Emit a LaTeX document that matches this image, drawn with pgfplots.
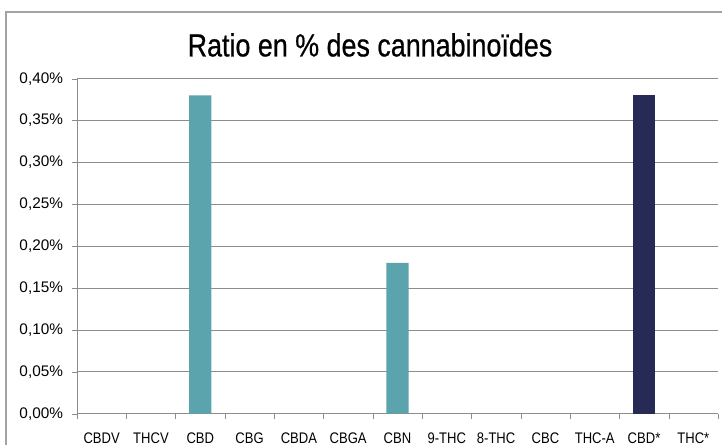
\documentclass[border=0pt]{standalone}
\usepackage{fontspec}
\setmainfont{Liberation Sans}
\newfontfamily\narrowfont[FakeStretch=0.85]{Liberation Sans}
\newfontfamily\titlefont[FakeStretch=0.84,FakeBold=0.6]{Liberation Sans}
\usepackage{pgfplots}
\pgfplotsset{compat=1.18}
\definecolor{teal1}{HTML}{5BA3AD}
\definecolor{navy1}{HTML}{262A55}
\definecolor{gridg}{HTML}{8C8C8C}
\begin{document}
\begin{tikzpicture}
\useasboundingbox (0pt,0pt) rectangle (541.5pt,333.75pt);
\draw[color=gridg!80, line width=0.9pt] (4.5pt,-15pt) -- (4.5pt,324.75pt) -- (570pt,324.75pt);
\node[font=\titlefont\fontsize{24}{27}\selectfont, text=black] at (277.5pt,300pt) {Ratio en \% des cannabinoïdes};
\begin{axis}[
  at={(57.75pt,23.5pt)}, anchor=south west,
  scale only axis, width=480.75pt, height=251.25pt,
  xmin=-0.5, xmax=12.5, ymin=0, ymax=0.4,
  ytick={0,0.05,...,0.4},
  yticklabel={\pgfmathparse{\tick}\pgfmathprintnumber[fixed,fixed zerofill,precision=2,use comma]{\pgfmathresult}\%},
  /pgf/number format/assume math mode=true,
  yticklabel style={font=\fontsize{11.5}{13}\selectfont, xshift=-3pt},
  xtick={0,...,12},
  xticklabels={CBDV,THCV,CBD,CBG,CBDA,CBGA,CBN,9-THC,8-THC,CBC,THC-A,CBD*,THC*},
  xticklabel style={font=\narrowfont\fontsize{11.5}{13}\selectfont, yshift=-7pt},
  major x tick style={draw=none},
  minor xtick={-0.5,0.5,...,12.5},
  minor x tick style={gridg},
  tick align=outside,
  major tick length=4pt, minor tick length=4pt,
  y tick style={gridg},
  ymajorgrids, grid style={gridg, line width=0.6pt},
  axis x line*=bottom, axis y line*=left,
  axis line style={gridg, line width=0.6pt},
  ybar, bar width=0.45, bar shift=0pt,
  clip=false,
]
\addplot[fill=teal1, draw=none] coordinates {(2,0.38) (6,0.18)};
\addplot[fill=navy1, draw=none] coordinates {(11,0.38)};
\end{axis}
\end{tikzpicture}
\end{document}
